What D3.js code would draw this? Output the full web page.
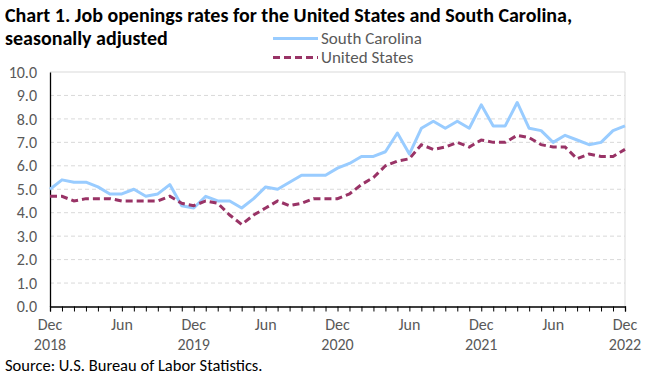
<!DOCTYPE html>
<html><head><meta charset="utf-8">
<script src="https://cdn.jsdelivr.net/npm/d3@7"></script>
<style>body{margin:0;background:#fff}svg{display:block}text{font-family:Carlito,Lato,"Liberation Sans",sans-serif}</style>
</head><body><svg id="c" width="663" height="375"></svg>
<script>
const months = ["Dec 2018","Jan 2019","Feb 2019","Mar 2019","Apr 2019","May 2019","Jun 2019","Jul 2019","Aug 2019","Sep 2019","Oct 2019","Nov 2019",
"Dec 2019","Jan 2020","Feb 2020","Mar 2020","Apr 2020","May 2020","Jun 2020","Jul 2020","Aug 2020","Sep 2020","Oct 2020","Nov 2020",
"Dec 2020","Jan 2021","Feb 2021","Mar 2021","Apr 2021","May 2021","Jun 2021","Jul 2021","Aug 2021","Sep 2021","Oct 2021","Nov 2021",
"Dec 2021","Jan 2022","Feb 2022","Mar 2022","Apr 2022","May 2022","Jun 2022","Jul 2022","Aug 2022","Sep 2022","Oct 2022","Nov 2022","Dec 2022"];
const southCarolina = [5.0,5.4,5.3,5.3,5.1,4.8,4.8,5.0,4.7,4.8,5.2,4.3,
4.2,4.7,4.5,4.5,4.2,4.6,5.1,5.0,5.3,5.6,5.6,5.6,
5.9,6.1,6.4,6.4,6.6,7.4,6.5,7.6,7.9,7.6,7.9,7.6,
8.6,7.7,7.7,8.7,7.6,7.5,7.0,7.3,7.1,6.9,7.0,7.5,7.7];
const unitedStates = [4.7,4.7,4.5,4.6,4.6,4.6,4.5,4.5,4.5,4.5,4.7,4.4,
4.3,4.5,4.4,3.9,3.5,3.9,4.2,4.5,4.3,4.4,4.6,4.6,
4.6,4.8,5.2,5.5,6.0,6.2,6.3,6.9,6.7,6.8,7.0,6.8,
7.1,7.0,7.0,7.3,7.2,6.9,6.8,6.8,6.3,6.5,6.4,6.4,6.7];
const yTicks = [0,1,2,3,4,5,6,7,8,9,10];
const xLabelIdx = [0,6,12,18,24,30,36,42,48];
const titleLines = ["Chart 1. Job openings rates for the United States and South Carolina,","seasonally adjusted"];
const seriesNames = ["South Carolina","United States"];

const svg = d3.select("#c");
const L=50, R=625, T=72, B=306.5;
const x = d3.scalePoint().domain(months).range([L,R]);
const y = d3.scaleLinear().domain([0,10]).range([B,T]);
const grey="#595959";

// gridlines
svg.append("g").selectAll("line").data(yTicks.filter(d=>d>0 && d<10)).join("line")
  .attr("x1",L).attr("x2",R).attr("y1",d=>y(d)).attr("y2",d=>y(d))
  .attr("stroke","#d9d9d9").attr("stroke-width",1).attr("stroke-dasharray","4,3");
// border top/right
svg.append("path").attr("d",`M${L},${T}H${R}V${B}`).attr("fill","none").attr("stroke","#d9d9d9").attr("stroke-width",1);

// y axis
const ya = svg.append("g").attr("transform",`translate(${L},0)`)
  .call(d3.axisLeft(y).tickValues(yTicks).tickFormat(d3.format(".1f")).tickSize(0).tickPadding(13));
ya.select(".domain").attr("stroke","#000").attr("stroke-width",1.3);
ya.selectAll("text").attr("font-size",16).attr("fill",grey).attr("font-family","Carlito,Lato,sans-serif");

// x axis
const xa = svg.append("g").attr("transform",`translate(0,${B})`)
  .call(d3.axisBottom(x).tickSize(5).tickFormat(""));
xa.select(".domain").attr("stroke","#000").attr("stroke-width",1.3);
xa.selectAll(".tick line").attr("stroke","#000");
const xl = svg.append("g").selectAll("g").data(xLabelIdx).join("g");
xl.append("text").attr("x",i=>x(months[i])).attr("y",330).attr("text-anchor","middle")
  .attr("font-size",16).attr("fill",grey).text(i=>months[i].split(" ")[0]);
xl.filter(i=>months[i].startsWith("Dec")).append("text").attr("x",i=>x(months[i])).attr("y",350).attr("text-anchor","middle")
  .attr("font-size",16).attr("fill",grey).text(i=>months[i].split(" ")[1]);

// lines
const line = d3.line().x((d,i)=>x(months[i])).y(d=>y(d));
svg.append("path").datum(southCarolina).attr("d",line).attr("fill","none")
  .attr("stroke","#99ccff").attr("stroke-width",3).attr("stroke-linejoin","round");
svg.append("path").datum(unitedStates).attr("d",line).attr("fill","none")
  .attr("stroke","#993366").attr("stroke-width",3).attr("stroke-dasharray","7,4");

// title
svg.append("g").selectAll("text").data(titleLines).join("text")
  .attr("x",5).attr("y",(d,i)=>21.5+i*23.5).attr("font-size",20).attr("font-weight","bold").attr("fill","#000").text(d=>d);

// legend
const lg = svg.append("g");
const legY=[38.5,57.5];
lg.append("line").attr("x1",273).attr("x2",318).attr("y1",legY[0]).attr("y2",legY[0]).attr("stroke","#99ccff").attr("stroke-width",3);
lg.append("line").attr("x1",273).attr("x2",318).attr("y1",legY[1]).attr("y2",legY[1]).attr("stroke","#993366").attr("stroke-width",3).attr("stroke-dasharray","7,4");
lg.selectAll("text").data(seriesNames).join("text").attr("x",321).attr("y",(d,i)=>legY[i]+5.5)
  .attr("font-size",17).attr("fill",grey).text(d=>d);

// source
svg.append("text").attr("x",5).attr("y",370.5).attr("font-size",16.5).attr("fill","#000").text("Source: U.S. Bureau of Labor Statistics.");
</script></body></html>
